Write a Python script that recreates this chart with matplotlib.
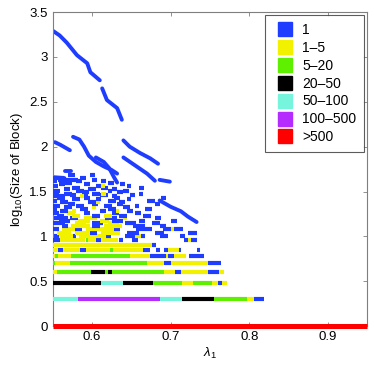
import math
import matplotlib
matplotlib.use("Agg")
import matplotlib.pyplot as plt
from matplotlib.lines import Line2D

plt.rcParams['font.family'] = ['Liberation Sans', 'DejaVu Sans']
plt.rcParams['mathtext.fontset'] = 'custom'
plt.rcParams['mathtext.rm'] = 'Liberation Sans'
plt.rcParams['mathtext.it'] = 'Liberation Sans:italic'

# colour per count class
labels = ["1", "1\u20135", "5\u201320", "20\u201350", "50\u2013100", "100\u2013500", ">500"]
codes = ["b", "y", "g", "k", "c", "p", "r"]
colors = ["#1f3dff", "#f2f200", "#5ff000", "#000000", "#77f5dc", "#b52cff", "#ff0000"]
cmap = dict(zip(codes, colors))

# one row per block size n: (lambda start, lambda end, class)
row_sizes = [1, 2, 3, 4, 5, 6, 7, 8, 9]
row_segments = [
    [(0.55, 0.95, "r")],
    [(0.55, 0.582, "c"), (0.582, 0.686, "p"), (0.686, 0.715, "c"), (0.715, 0.755, "k"),
     (0.755, 0.797, "g"), (0.797, 0.806, "y"), (0.806, 0.819, "b")],
    [(0.55, 0.612, "k"), (0.612, 0.639, "c"), (0.639, 0.677, "k"), (0.677, 0.715, "g"),
     (0.715, 0.728, "y"), (0.728, 0.752, "g"), (0.752, 0.760, "y"), (0.760, 0.765, "b"),
     (0.765, 0.772, "y")],
    [(0.55, 0.556, "y"), (0.556, 0.599, "g"), (0.599, 0.617, "k"), (0.617, 0.621, "g"),
     (0.621, 0.625, "k"), (0.625, 0.691, "g"), (0.691, 0.706, "y"), (0.706, 0.713, "b"),
     (0.713, 0.748, "y"), (0.748, 0.761, "b"), (0.761, 0.768, "y")],
    [(0.55, 0.553, "g"), (0.553, 0.572, "y"), (0.572, 0.670, "g"), (0.670, 0.691, "y"),
     (0.691, 0.7005, "b"), (0.7005, 0.748, "y"), (0.748, 0.764, "b")],
    [(0.55, 0.553, "y"), (0.553, 0.557, "g"), (0.557, 0.574, "y"), (0.574, 0.648, "g"),
     (0.648, 0.674, "y"), (0.674, 0.694, "b"), (0.694, 0.697, "y"), (0.697, 0.704, "b"),
     (0.704, 0.719, "y"), (0.723, 0.742, "b")],
    [(0.55, 0.557, "y"), (0.557, 0.563, "b"), (0.563, 0.585, "y"), (0.585, 0.592, "b"),
     (0.592, 0.623, "y"), (0.623, 0.627, "g"), (0.627, 0.665, "y"), (0.665, 0.674, "b"),
     (0.681, 0.686, "b"), (0.692, 0.697, "b"), (0.697, 0.710, "y"), (0.710, 0.713, "b"),
     (0.733, 0.737, "b")],
    [(0.55, 0.676, "y"), (0.676, 0.682, "b")],
    [(0.55, 0.559, "b"), (0.559, 0.591, "y"), (0.592, 0.595, "g"), (0.595, 0.605, "y"),
     (0.605, 0.611, "b"), (0.611, 0.633, "y"), (0.635, 0.640, "b"), (0.651, 0.659, "b"),
     (0.717, 0.722, "b"), (0.722, 0.726, "y"), (0.726, 0.734, "b")],
]

# denser region, block sizes 10..48
dense_sizes = [10, 11, 12, 13, 14, 15, 16, 17, 18, 19, 20, 21, 22, 23, 24, 25, 26, 27, 28, 29,
               30, 31, 32, 34, 35, 36, 38, 39, 41, 42, 45, 48]
dense_segments = [
    [(0.552, 0.558, "b"), (0.558, 0.576, "y"), (0.576, 0.58, "b"), (0.583, 0.618, "y"),
     (0.618, 0.624, "b"), (0.642, 0.655, "b"), (0.655, 0.662, "y"), (0.662, 0.668, "b"),
     (0.686, 0.697, "b"), (0.712, 0.718, "b")],
    [(0.556, 0.574, "y"), (0.578, 0.598, "y"), (0.598, 0.606, "b"), (0.612, 0.636, "y"),
     (0.645, 0.66, "b"), (0.68, 0.692, "b"), (0.722, 0.733, "b")],
    [(0.55, 0.558, "b"), (0.562, 0.578, "y"), (0.578, 0.588, "b"), (0.592, 0.628, "y"),
     (0.628, 0.636, "b"), (0.656, 0.676, "b"), (0.69, 0.70, "b"), (0.70, 0.704, "y"), (0.704, 0.716, "b")],
    [(0.562, 0.57, "b"), (0.574, 0.598, "y"), (0.60, 0.61, "b"), (0.615, 0.638, "y"),
     (0.652, 0.668, "b"), (0.686, 0.694, "b")],
    [(0.55, 0.566, "b"), (0.578, 0.592, "y"), (0.60, 0.614, "b"), (0.62, 0.634, "y"),
     (0.642, 0.656, "b"), (0.676, 0.686, "b")],
    [(0.558, 0.572, "b"), (0.582, 0.598, "y"), (0.61, 0.622, "y"), (0.626, 0.64, "b"),
     (0.66, 0.668, "b"), (0.70, 0.708, "b")],
    [(0.552, 0.57, "b"), (0.572, 0.582, "b"), (0.59, 0.606, "y"), (0.616, 0.632, "b"),
     (0.64, 0.645, "y"), (0.68, 0.688, "b")],
    [(0.555, 0.565, "b"), (0.575, 0.585, "y"), (0.60, 0.61, "b"), (0.615, 0.625, "y"),
     (0.635, 0.645, "b"), (0.665, 0.675, "b")],
    [(0.55, 0.558, "b"), (0.568, 0.578, "y"), (0.59, 0.598, "b"), (0.625, 0.635, "b"), (0.655, 0.662, "b")],
    [(0.56, 0.57, "b"), (0.575, 0.58, "y"), (0.61, 0.618, "b"), (0.63, 0.635, "y"), (0.645, 0.652, "b")],
    [(0.55, 0.556, "b"), (0.585, 0.595, "b"), (0.62, 0.63, "b"), (0.668, 0.676, "b")],
    [(0.565, 0.575, "b"), (0.60, 0.605, "y"), (0.64, 0.648, "b")],
    [(0.55, 0.56, "b"), (0.58, 0.59, "b"), (0.615, 0.625, "b"), (0.655, 0.66, "b")],
    [(0.57, 0.578, "b"), (0.60, 0.608, "b"), (0.632, 0.64, "b"), (0.68, 0.686, "b")],
    [(0.56, 0.57, "b"), (0.595, 0.605, "b"), (0.605, 0.61, "y"), (0.635, 0.642, "b")],
    [(0.55, 0.556, "b"), (0.62, 0.63, "b"), (0.67, 0.68, "b")],
    [(0.575, 0.585, "b"), (0.605, 0.612, "b"), (0.645, 0.65, "b")],
    [(0.556, 0.566, "b"), (0.59, 0.598, "b"), (0.628, 0.636, "b"), (0.688, 0.694, "b")],
    [(0.55, 0.565, "b"), (0.585, 0.59, "y"), (0.59, 0.595, "b"), (0.625, 0.632, "b")],
    [(0.572, 0.58, "b"), (0.61, 0.62, "b"), (0.648, 0.655, "b")],
    [(0.565, 0.575, "b"), (0.60, 0.61, "b"), (0.612, 0.618, "y"), (0.66, 0.665, "b")],
    [(0.55, 0.558, "b"), (0.588, 0.596, "b"), (0.632, 0.64, "b")],
    [(0.55, 0.56, "b"), (0.58, 0.59, "b"), (0.62, 0.625, "b"), (0.64, 0.647, "b")],
    [(0.565, 0.572, "b"), (0.595, 0.605, "b"), (0.625, 0.632, "b")],
    [(0.575, 0.585, "b"), (0.612, 0.62, "b"), (0.66, 0.666, "b")],
    [(0.55, 0.557, "b"), (0.605, 0.612, "b"), (0.612, 0.616, "y"), (0.645, 0.65, "b")],
    [(0.558, 0.566, "b"), (0.59, 0.598, "b"), (0.636, 0.642, "b")],
    [(0.565, 0.575, "b"), (0.62, 0.628, "b")],
    [(0.55, 0.556, "b"), (0.58, 0.588, "b"), (0.612, 0.618, "b")],
    [(0.557, 0.582, "b"), (0.60, 0.607, "b")],
    [(0.55, 0.565, "b"), (0.585, 0.592, "b")],
    [(0.57, 0.578, "b"), (0.598, 0.604, "b")],
]

# large blocks that shrink as lambda grows: (lambda, log10 size)
streaks = [
    [(0.549, 3.30), (0.559, 3.24), (0.568, 3.16), (0.581, 3.02), (0.594, 2.93), (0.598, 2.83), (0.610, 2.74)],
    [(0.613, 2.65), (0.619, 2.52), (0.632, 2.43), (0.638, 2.30)],
    [(0.553, 2.05), (0.560, 2.02), (0.572, 1.96)],
    [(0.576, 2.11), (0.584, 2.08), (0.590, 2.00), (0.596, 1.90), (0.605, 1.83), (0.615, 1.78),
     (0.625, 1.74), (0.632, 1.70)],
    [(0.605, 1.88), (0.615, 1.83), (0.622, 1.76), (0.628, 1.66), (0.632, 1.60)],
    [(0.640, 2.07), (0.648, 2.00), (0.661, 1.93), (0.674, 1.87), (0.684, 1.81)],
    [(0.640, 1.88), (0.655, 1.79), (0.670, 1.70), (0.680, 1.62)],
    [(0.686, 1.63), (0.699, 1.61)],
    [(0.686, 1.40), (0.700, 1.33), (0.713, 1.28), (0.722, 1.22), (0.733, 1.16)],
    [(0.55, 1.66), (0.565, 1.65)],
    [(0.566, 1.73), (0.574, 1.73)],
]

fig = plt.figure(figsize=(3.74, 3.68), dpi=100)
ax = fig.add_axes([0.1406, 0.114, 0.8417, 0.853])

lw = 3.0
for n, segs in zip(row_sizes + dense_sizes, row_segments + dense_segments):
    y = math.log10(n)
    for x0, x1, c in segs:
        ax.plot([x0, x1], [y, y], color=cmap[c], lw=lw if n > 1 else 3.6,
                solid_capstyle="butt", clip_on=(n > 1), zorder=3 if n > 1 else 5)

for pts in streaks:
    xs = [p[0] for p in pts]
    ys = [p[1] for p in pts]
    ax.plot(xs, ys, color=cmap["b"], lw=2.8, solid_capstyle="round", solid_joinstyle="round")

ax.set_xlim(0.55, 0.95)
ax.set_ylim(0, 3.5)
ax.set_xticks([0.6, 0.7, 0.8, 0.9])
ax.set_yticks([0, 0.5, 1, 1.5, 2, 2.5, 3, 3.5])
ax.set_yticklabels(["0", "0.5", "1", "1.5", "2", "2.5", "3", "3.5"])
ax.tick_params(direction="in", length=3, width=0.6, colors="#7f7f7f", labelcolor="black",
               labelsize=9.5, top=True, right=True)
for s in ax.spines.values():
    s.set_color("#7f7f7f")
    s.set_linewidth(0.8)

ax.set_xlabel(r"$\lambda_1$", fontsize=9.5, labelpad=2)
ax.set_ylabel(r"log$_{10}$(Size of Block)", fontsize=9.5, labelpad=3)

handles = [Line2D([], [], marker="s", linestyle="none", markersize=9.4, markerfacecolor=c,
                  markeredgecolor=c) for c in colors]
leg = ax.legend(handles, labels, loc="upper right", bbox_to_anchor=(0.989, 0.990), fontsize=10,
                frameon=True, fancybox=False, borderpad=0.55, labelspacing=0.28, handlelength=1.7,
                handletextpad=0.4, borderaxespad=0)
leg.get_frame().set_edgecolor("#333333")
leg.get_frame().set_linewidth(0.8)

plt.savefig("out.png", dpi=100)
